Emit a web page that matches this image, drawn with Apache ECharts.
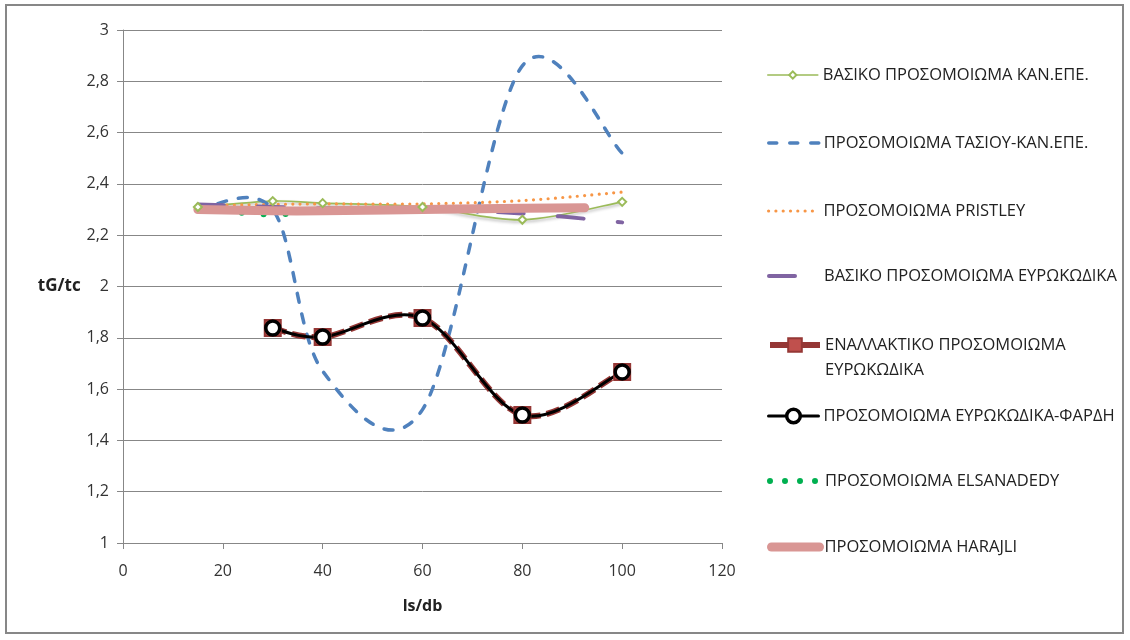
<!DOCTYPE html>
<html>
<head>
<meta charset="utf-8">
<script src="https://cdn.jsdelivr.net/npm/echarts@6/dist/echarts.min.js"></script>
<style>
  html, body { margin: 0; padding: 0; background: #fff; }
  #chart { width: 1130px; height: 640px; }
</style>
</head>
<body>
<div id="chart"></div>
<script>
// ls/db positions of each model
const lsdbMain = [15, 30, 40, 60, 80, 100];
const lsdbEuro = [30, 40, 60, 80, 100];
const lsdbElsanadedy = [15, 30, 40, 60, 80];
const lsdbHarajli = [15, 30, 40, 60, 80, 92.5];

// tG/tc values
const basicKanEpe = [2.31, 2.333, 2.325, 2.31, 2.26, 2.33];
const tasiouKanEpe = [2.30, 2.30, 1.67, 1.52, 2.86, 2.52];
const pristley = [2.315, 2.32, 2.322, 2.322, 2.335, 2.368];
const basicEurocode = [2.32, 2.31, 2.305, 2.30, 2.285, 2.25];
const altEurocode = [1.838, 1.803, 1.877, 1.499, 1.667];
const eurocodeFardi = [1.838, 1.803, 1.877, 1.499, 1.667];
const elsanadedy = [2.305, 2.28, 2.30, 2.30, 2.305];
const harajli = [2.30, 2.295, 2.295, 2.30, 2.305, 2.307];

// legend names
const names = [
  'ΒΑΣΙΚΟ ΠΡΟΣΟΜΟΙΩΜΑ ΚΑΝ.ΕΠΕ.',
  'ΠΡΟΣΟΜΟΙΩΜΑ ΤΑΣΙΟΥ-ΚΑΝ.ΕΠΕ.',
  'ΠΡΟΣΟΜΟΙΩΜΑ PRISTLEY',
  'ΒΑΣΙΚΟ ΠΡΟΣΟΜΟΙΩΜΑ ΕΥΡΩΚΩΔΙΚΑ',
  'ΕΝΑΛΛΑΚΤΙΚΟ ΠΡΟΣΟΜΟΙΩΜΑ\nΕΥΡΩΚΩΔΙΚΑ',
  'ΠΡΟΣΟΜΟΙΩΜΑ ΕΥΡΩΚΩΔΙΚΑ-ΦΑΡΔΗ',
  'ΠΡΟΣΟΜΟΙΩΜΑ ELSANADEDY',
  'ΠΡΟΣΟΜΟΙΩΜΑ HARAJLI'
];

const yTicks = { min: 1, max: 3, step: 0.2 };
const xTicks = { min: 0, max: 120, step: 20 };

const FONT = "'Open Sans', 'Noto Sans', sans-serif";
const pair = (xs, ys) => xs.map((x, i) => [x, ys[i]]);

// per-model drawing styles (stroke of the curve, marker, legend dash)
const models = [
  { xs: lsdbMain, ys: basicKanEpe, color: '#9BBB59', width: 1.6, dash: null, cap: 'round',
    symbol: 'diamond', size: 8, fill: '#fff', border: '#9BBB59', bw: 2, legendH: 9, shadow: true },
  { xs: lsdbMain, ys: tasiouKanEpe, color: '#4F81BD', width: 3.5, dash: [9, 12], cap: 'round', legendDash: [8, 13] },
  { xs: lsdbMain, ys: pristley, color: '#F79646', width: 3.2, dash: [0, 7.3], cap: 'round' },
  { xs: lsdbMain, ys: basicEurocode, color: '#8064A2', width: 4, dash: [26, 34], cap: 'round', legendDash: [26, 40] },
  { xs: lsdbEuro, ys: altEurocode, color: '#953735', width: 6, dash: [14, 6], cap: 'butt',
    symbol: 'rect', size: 16, fill: '#C0504D', border: '#953735', bw: 2, legendH: 17, legendDash: [] },
  { xs: lsdbEuro, ys: eurocodeFardi, color: '#000000', width: 3, dash: null, cap: 'round',
    symbol: 'circle', size: 14, fill: '#fff', border: '#000', bw: 3.5, legendH: 17 },
  { xs: lsdbElsanadedy, ys: elsanadedy, color: '#00B050', width: 6, dash: [0, 22], cap: 'round', legendDash: [0, 15] },
  { xs: lsdbHarajli, ys: harajli, color: '#D99694', width: 9, dash: null, cap: 'round', legendW: 48 }
];

// Smoothed path through pixel points: cubic Béziers with Catmull-Rom style handles
function smoothPath(pts) {
  let d = 'M' + pts[0][0] + ' ' + pts[0][1];
  for (let i = 0; i < pts.length - 1; i++) {
    const p0 = pts[i - 1] || pts[i];
    const p1 = pts[i];
    const p2 = pts[i + 1];
    const p3 = pts[i + 2] || pts[i + 1];
    const c1x = p1[0] + (p2[0] - p0[0]) / 6, c1y = p1[1] + (p2[1] - p0[1]) / 6;
    const c2x = p2[0] - (p3[0] - p1[0]) / 6, c2y = p2[1] - (p3[1] - p1[1]) / 6;
    d += ' C' + c1x + ' ' + c1y + ' ' + c2x + ' ' + c2y + ' ' + p2[0] + ' ' + p2[1];
  }
  return d;
}

// legend rows: centre of the icon for each entry
const legendCenters = [75, 143, 211, 276, 345, 416, 481, 547];
const legends = names.map((n, i) => {
  const m = models[i];
  const twoLine = n.indexOf('\n') >= 0;
  const item = {
    name: n,
    lineStyle: {
      color: m.color, width: m.width, opacity: 1,
      type: m.legendDash !== undefined ? (m.legendDash.length ? m.legendDash : 'solid') : (m.dash || 'solid'),
      cap: m.cap
    },
    itemStyle: m.symbol
      ? { color: m.fill, borderColor: m.border, borderWidth: m.bw, opacity: 1 }
      : { opacity: 0 }
  };
  const h = m.legendH || 14;
  const lg = {
    data: [item],
    left: 767,
    top: legendCenters[i] - (twoLine ? 37.5 : 10),
    padding: 0,
    orient: 'vertical',
    itemWidth: m.legendW || 50,
    itemHeight: h,
    itemGap: 0,
    selectedMode: false,
    textStyle: {
      fontFamily: FONT, fontSize: 16.5, color: '#222',
      lineHeight: twoLine ? 25 : 20
    }
  };
  // wrapped label: first line level with the icon
  if (twoLine) lg.formatter = name => '\n' + name;
  return lg;
});

// marker/legend carriers: line series with hidden stroke
const markerSeries = models.map((m, i) => ({
  name: names[i], type: 'line', z: 3, data: pair(m.xs, m.ys),
  symbol: m.symbol || 'none', symbolSize: m.size || 0, showSymbol: !!m.symbol,
  lineStyle: { color: m.color, width: m.width, opacity: 0 },
  itemStyle: m.symbol ? { color: m.fill, borderColor: m.border, borderWidth: m.bw } : { color: m.color },
  emphasis: { disabled: true }
}));

// smoothed curves, drawn through the axis scales
const curveSeries = models.map((m, i) => ({
  name: names[i], type: 'custom', z: 2, silent: true,
  data: pair(m.xs, m.ys),
  encode: { x: 0, y: 1 },
  renderItem: (params, api) => {
    if (params.dataIndex !== 0) return null;
    const pts = m.xs.map((x, k) => api.coord([x, m.ys[k]]));
    const style = {
      fill: null, stroke: m.color, lineWidth: m.width, lineCap: m.cap, lineJoin: 'round'
    };
    if (m.dash) style.lineDash = m.dash;
    if (m.shadow) {
      style.shadowColor = 'rgba(0,0,0,0.3)'; style.shadowBlur = 3; style.shadowOffsetY = 2;
    }
    return { type: 'path', shape: { pathData: smoothPath(pts) }, style: style };
  }
}));

const chart = echarts.init(document.getElementById('chart'), null, { renderer: 'canvas' });
chart.setOption({
  animation: false,
  backgroundColor: '#fff',
  graphic: [{
    type: 'rect', shape: { x: 6, y: 5, width: 1117, height: 628 },
    style: { fill: 'none', stroke: '#878787', lineWidth: 2 }, silent: true
  }],
  legend: legends,
  grid: { left: 123, top: 30, right: 408, bottom: 97, containLabel: false },
  xAxis: {
    type: 'value', min: xTicks.min, max: xTicks.max, interval: xTicks.step,
    name: 'ls/db', nameLocation: 'middle', nameGap: 55,
    nameTextStyle: { fontFamily: FONT, fontSize: 16, fontWeight: 'bold', color: '#222' },
    axisLine: { lineStyle: { color: '#878787', width: 1 } },
    axisTick: { show: true, length: 6, lineStyle: { color: '#878787' } },
    axisLabel: { margin: 20, fontFamily: FONT, fontSize: 16, color: '#333' },
    splitLine: { show: false }
  },
  yAxis: {
    type: 'value', min: yTicks.min, max: yTicks.max, interval: yTicks.step,
    name: 'tG/tc', nameLocation: 'middle', nameRotate: 0, nameGap: 33,
    nameTextStyle: { fontFamily: FONT, fontSize: 17, fontWeight: 'bold', color: '#222', align: 'right' },
    axisLine: { show: true, lineStyle: { color: '#878787', width: 1 } },
    axisTick: { show: true, length: 6, lineStyle: { color: '#878787' } },
    axisLabel: {
      margin: 14, fontFamily: FONT, fontSize: 16, color: '#333',
      formatter: v => String(Number(v.toFixed(1))).replace('.', ',')
    },
    splitLine: { show: true, lineStyle: { color: '#878787', width: 1 } }
  },
  series: markerSeries.concat(curveSeries)
});
</script>
</body>
</html>
